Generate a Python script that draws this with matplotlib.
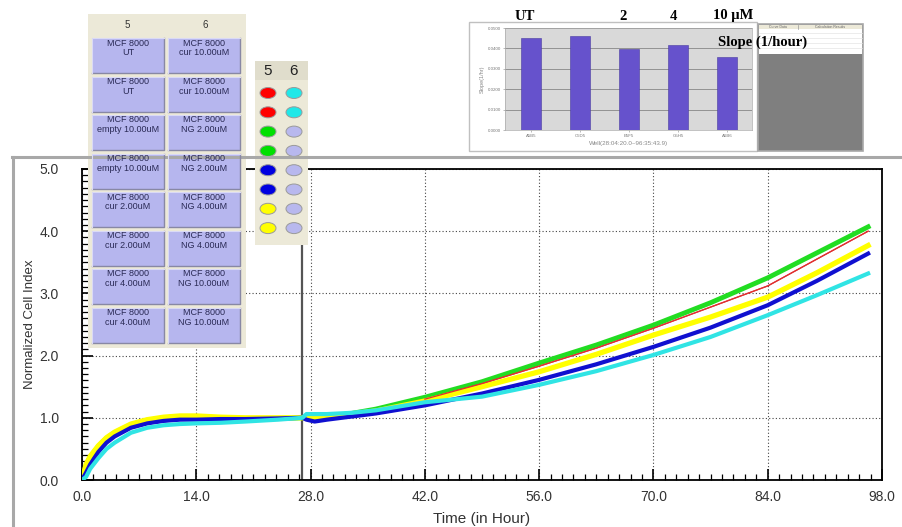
import numpy as np
import matplotlib.pyplot as plt
from matplotlib.patches import Rectangle, Ellipse
from matplotlib.ticker import MultipleLocator, FormatStrFormatter

plt.rcParams['font.family'] = ['Liberation Sans', 'DejaVu Sans']

W, H = 902, 527

# time points (hours)
hours = [0, 0.5, 1, 2, 3, 4, 6, 8, 10, 12, 14, 17, 20, 24, 27, 27.5, 28.5,
         30, 33, 36, 42, 49, 56, 63, 70, 77, 84, 90, 96.3]

yellow = [0.0, 0.25, 0.38, 0.55, 0.68, 0.77, 0.90, 0.97, 1.01, 1.03, 1.03, 1.01,
          1.00, 1.00, 1.00, 1.00, 1.00, 1.02, 1.06, 1.11, 1.27, 1.50, 1.74,
          2.02, 2.33, 2.62, 2.94, 3.33, 3.77]
green = [0.0, 0.24, 0.37, 0.54, 0.67, 0.76, 0.89, 0.96, 1.00, 1.02, 1.02, 1.00,
         0.99, 0.99, 1.00, 1.00, 1.00, 1.02, 1.07, 1.14, 1.33, 1.58, 1.88,
         2.17, 2.49, 2.85, 3.25, 3.65, 4.07]
red = [0.0, 0.24, 0.37, 0.54, 0.67, 0.76, 0.89, 0.96, 1.00, 1.02, 1.02, 1.00,
       0.99, 0.99, 1.00, 1.00, 1.00, 1.02, 1.06, 1.13, 1.30, 1.55, 1.83,
       2.12, 2.44, 2.78, 3.12, 3.55, 4.00]
blue = [0.0, 0.12, 0.25, 0.45, 0.60, 0.70, 0.84, 0.91, 0.95, 0.97, 0.97, 0.98,
        0.98, 0.99, 1.00, 0.97, 0.94, 0.97, 1.02, 1.07, 1.20, 1.39, 1.61,
        1.86, 2.14, 2.45, 2.81, 3.20, 3.64]
cyan = [0.0, 0.05, 0.18, 0.35, 0.50, 0.60, 0.76, 0.84, 0.88, 0.90, 0.91, 0.92,
        0.94, 0.97, 1.00, 1.06, 1.06, 1.06, 1.08, 1.12, 1.25, 1.34, 1.53,
        1.75, 2.01, 2.30, 2.65, 2.97, 3.32]

treat_time = 26.9

# well buttons and legend dots
col5_labels = ["MCF 8000\nUT"] * 2 + ["MCF 8000\nempty 10.00uM"] * 2 + \
              ["MCF 8000\ncur 2.00uM"] * 2 + ["MCF 8000\ncur 4.00uM"] * 2
col6_labels = ["MCF 8000\ncur 10.00uM"] * 2 + ["MCF 8000\nNG 2.00uM"] * 2 + \
              ["MCF 8000\nNG 4.00uM"] * 2 + ["MCF 8000\nNG 10.00uM"] * 2
col5_dots = ['#ff0000', '#ff0000', '#00e000', '#00e000',
             '#0000e0', '#0000e0', '#ffff00', '#ffff00']
col6_dots = ['#20e8e8', '#20e8e8'] + ['#b8b8ee'] * 6

# slope inset
bar_wells = ['A5B5', 'C5D5', 'E5F5', 'G5H5', 'A6B6']
bar_slopes = [0.0451, 0.0461, 0.0397, 0.0417, 0.0358]
dose_labels = ['UT', '2', '4', '10 \u03bcM']


def fig_box(x0, y0, x1, y1):
    return [x0 / W, 1 - y1 / H, (x1 - x0) / W, (y1 - y0) / H]


def pixel_axes(z):
    a = fig.add_axes([0, 0, 1, 1], zorder=z)
    a.set_xlim(0, W)
    a.set_ylim(H, 0)
    a.axis('off')
    a.patch.set_alpha(0)
    return a


fig = plt.figure(figsize=(W / 100, H / 100), dpi=100)
fig.patch.set_facecolor('white')

# main cell index plot
ax = fig.add_axes(fig_box(82, 169, 882, 480), zorder=1)
ax.plot(hours, green, color='#22dd22', lw=3.5, zorder=3)
ax.plot(hours, red, color='#e03030', lw=0.9, zorder=3)
ax.plot(hours, yellow, color='#ffff00', lw=3.8, zorder=4)
ax.plot(hours, blue, color='#1010d0', lw=3.0, zorder=5)
ax.plot(hours, cyan, color='#30e4e4', lw=3.0, zorder=6)
ax.plot(hours[20:], red[20:], color='#e03030', lw=0.9, zorder=7)
ax.axvline(treat_time, color='#555555', lw=1.6, zorder=2)

ax.set_xlim(0, 98)
ax.set_ylim(0, 5)
ax.xaxis.set_major_locator(MultipleLocator(14))
ax.xaxis.set_minor_locator(MultipleLocator(1.4))
ax.yaxis.set_major_locator(MultipleLocator(1))
ax.yaxis.set_minor_locator(MultipleLocator(0.1))
ax.xaxis.set_major_formatter(FormatStrFormatter('%.1f'))
ax.yaxis.set_major_formatter(FormatStrFormatter('%.1f'))
ax.tick_params(which='both', direction='in', colors='black',
               labelcolor='#333333', labelsize=10)
ax.tick_params(which='major', length=8, width=1.2)
ax.tick_params(which='minor', length=4, width=0.9)
ax.tick_params(axis='x', pad=7)
ax.tick_params(axis='y', pad=16.5)
ax.grid(True, which='major', color='#444444', lw=0.8, linestyle=(0, (1, 2)))
for s in ax.spines.values():
    s.set_linewidth(1.3)
ax.set_xlabel('Time (in Hour)', fontsize=11, color='#333333', labelpad=6)
ax.set_ylabel('Normalized Cell Index', fontsize=9.5, color='#333333', labelpad=3)

# overlay in pixel coordinates
ov = pixel_axes(5)
ov.plot([12, 902], [157, 157], color='#a8a8a8', lw=2.2)
ov.plot([13, 13], [157, 527], color='#a8a8a8', lw=2.2)

# well button panel
ov.add_patch(Rectangle((88, 14), 158, 334, fc='#ece9d8', ec='none'))
ov.text(127, 25, '5', fontsize=7, ha='center', va='center', color='#333333')
ov.text(205, 25, '6', fontsize=7, ha='center', va='center', color='#333333')
for j, labels in enumerate([col5_labels, col6_labels]):
    x0 = [92, 168][j]
    for i, lab in enumerate(labels):
        y0 = 38 + i * 38.5
        btn = Rectangle((x0, y0), 72, 35, fc='#b6b6ee', ec='none')
        ov.add_patch(btn)
        ov.plot([x0, x0 + 72, x0 + 72], [y0 + 35, y0 + 35, y0], color='#8888a4', lw=1)
        ov.plot([x0, x0, x0 + 72], [y0 + 35, y0, y0], color='#dadaf6', lw=0.8)
        t = ov.text(x0 + 36, y0 + 0.5, lab, ha='center', va='top', fontsize=6.5,
                    color='#2a2a55', linespacing=1.1, clip_on=True)
        t.set_clip_path(btn)

# legend dot panel
ov.add_patch(Rectangle((255, 61), 53, 184, fc='#ece9d8', ec='none'))
ov.add_patch(Rectangle((255, 61), 53, 19, fc='#e0ddcc', ec='none'))
ov.text(268, 71, '5', fontsize=11, ha='center', va='center', color='#222222')
ov.text(294, 71, '6', fontsize=11, ha='center', va='center', color='#222222')
for i in range(8):
    y = 93 + i * 19.3
    ov.add_patch(Ellipse((268, y), 16, 11, fc=col5_dots[i], ec='#9a9a9a', lw=0.7))
    ov.add_patch(Ellipse((294, y), 16, 11, fc=col6_dots[i], ec='#9a9a9a', lw=0.7))

# slope inset frame and table
ov.add_patch(Rectangle((469, 22), 288, 129, fc='white', ec='#c0c0c0', lw=1))
ov.add_patch(Rectangle((758, 24), 105, 127, fc='#7f7f7f', ec='#a8a8a8', lw=1.2))
ov.add_patch(Rectangle((759, 25), 103, 29, fc='white', ec='none'))
ov.add_patch(Rectangle((759, 25), 103, 4, fc='#ece9d8', ec='none'))
ov.plot([798, 798], [25, 29], color='#999999', lw=0.5)
for yy in [33, 38, 43, 48]:
    ov.plot([759, 862], [yy, yy], color='#e4e4e4', lw=0.5)
ov.text(778, 27, 'Curve Data', fontsize=2.5, ha='center', va='center', color='#666666')
ov.text(830, 27, 'Calculation Results', fontsize=2.5, ha='center', va='center', color='#666666')

# slope bar chart
bx = fig.add_axes(fig_box(505, 28, 752, 130), zorder=6)
bx.set_facecolor('#d9d9d9')
bx.bar(np.arange(len(bar_wells)), bar_slopes, width=0.41, color='#6652cc',
       edgecolor='#4a3ca0', lw=0.4, zorder=3)
bx.set_xlim(-0.53, 4.51)
bx.set_ylim(0, 0.05)
bx.yaxis.set_major_locator(MultipleLocator(0.01))
bx.yaxis.set_major_formatter(FormatStrFormatter('%.4f'))
bx.set_xticks(np.arange(len(bar_wells)))
bx.set_xticklabels(bar_wells)
bx.tick_params(labelsize=3.2, labelcolor='#777777', length=1.5, width=0.4,
               color='#888888', pad=1.5)
bx.grid(True, axis='y', color='#777777', lw=0.5, zorder=1)
for s in bx.spines.values():
    s.set_color('#aaaaaa')
    s.set_linewidth(0.5)
bx.set_ylabel('Slope(1/hr)', fontsize=4, color='#888888', labelpad=2)
bx.set_xlabel('Well(28:04:20.0~96:35:43.9)', fontsize=4.5, color='#888888', labelpad=2)

# bold annotations on top of everything
top = pixel_axes(7)
serif = dict(family='Liberation Serif', weight='bold', fontsize=10.5, color='black',
             va='center')
for lab, xc in zip(dose_labels, [525, 623, 673, 733]):
    top.text(xc, 16, lab, ha='center', **serif)
top.text(718, 42, 'Slope (1/hour)', ha='left', **serif)

fig.savefig('out.png', dpi=100)
